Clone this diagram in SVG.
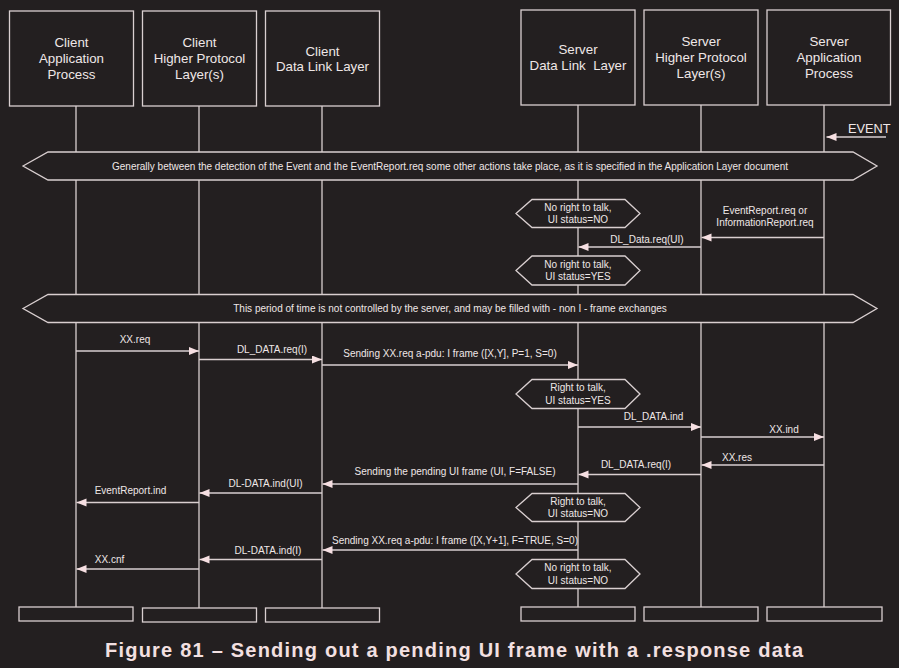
<svg xmlns="http://www.w3.org/2000/svg" width="899" height="668" viewBox="0 0 899 668">
<style>
.bg{fill:#231f20}
.box{fill:#231f20;stroke:#d9cfd0;stroke-width:1.3}
.life{stroke:#d9cfd0;stroke-width:1.3;fill:none}
.msg{stroke:#d9cfd0;stroke-width:1.3;fill:none;marker-end:url(#ah)}
.ht{font-family:"Liberation Sans",Arial,sans-serif;font-size:13.3px;fill:#efe7e7;text-anchor:middle}
.t{font-family:"Liberation Sans",Arial,sans-serif;font-size:10px;fill:#efe7e7;text-anchor:middle}
.title{font-family:"Liberation Sans",Arial,sans-serif;font-size:20px;font-weight:bold;fill:#f3e0e1}
</style>
<defs>
<marker id="ah" markerUnits="userSpaceOnUse" markerWidth="11" markerHeight="9" refX="10" refY="4" orient="auto">
<path d="M0,0 L10,4 L0,8 z" fill="#f6dfe2"/>
</marker>
</defs>
<rect class="bg" x="0" y="0" width="899" height="668"/>

<g id="lifelines">
<line class="life" x1="76" y1="106" x2="76" y2="607"/>
<line class="life" x1="199" y1="106" x2="199" y2="608"/>
<line class="life" x1="322" y1="106" x2="322" y2="608"/>
<line class="life" x1="578" y1="105" x2="578" y2="607"/>
<line class="life" x1="701" y1="105" x2="701" y2="607"/>
<line class="life" x1="824" y1="105" x2="824" y2="607"/>
</g>

<g id="node-client-app">
<rect class="box" x="9.5" y="11" width="124" height="95"/>
<text class="ht" x="71.5" y="47">Client</text>
<text class="ht" x="71.5" y="63">Application</text>
<text class="ht" x="71.5" y="79">Process</text>
<rect class="box" x="19" y="607" width="114" height="14"/>
</g>
<g id="node-client-hpl">
<rect class="box" x="142.5" y="11" width="114" height="95"/>
<text class="ht" x="199.5" y="47">Client</text>
<text class="ht" x="199.5" y="63">Higher Protocol</text>
<text class="ht" x="199.5" y="79">Layer(s)</text>
<rect class="box" x="142.5" y="608" width="114" height="14"/>
</g>
<g id="node-client-dll">
<rect class="box" x="265.5" y="11" width="114" height="95"/>
<text class="ht" x="322.5" y="55.5">Client</text>
<text class="ht" x="322.5" y="71">Data Link Layer</text>
<rect class="box" x="265.5" y="608" width="114" height="14"/>
</g>
<g id="node-server-dll">
<rect class="box" x="521" y="10" width="114" height="95"/>
<text class="ht" x="578" y="54">Server</text>
<text class="ht" x="578" y="70" xml:space="preserve">Data Link  Layer</text>
<rect class="box" x="521" y="607" width="114" height="14"/>
</g>
<g id="node-server-hpl">
<rect class="box" x="644" y="10" width="114" height="95"/>
<text class="ht" x="701" y="46">Server</text>
<text class="ht" x="701" y="62">Higher Protocol</text>
<text class="ht" x="701" y="78">Layer(s)</text>
<rect class="box" x="644" y="607" width="114" height="14"/>
</g>
<g id="node-server-app">
<rect class="box" x="767" y="10" width="123.5" height="95"/>
<text class="ht" x="829" y="46">Server</text>
<text class="ht" x="829" y="62">Application</text>
<text class="ht" x="829" y="78">Process</text>
<rect class="box" x="767" y="607" width="115" height="14"/>
</g>

<g id="banner-1">
<polygon class="box" points="23,166 48,152 853,152 877,166 853,180 48,180"/>
<text class="t" x="450" y="169.5">Generally between the detection of the Event and the EventReport.req some other actions take place, as it is specified in the Application Layer document</text>
</g>
<g id="banner-2">
<polygon class="box" points="23,308.5 48,294.5 853,294.5 877,308.5 853,322.5 48,322.5"/>
<text class="t" x="450" y="312">This period of time is not controlled by the server, and may be filled with - non I - frame exchanges</text>
</g>

<g id="state-1">
<polygon class="box" points="516,213.5 532,199.5 625,199.5 640,213.5 625,227.5 532,227.5"/>
<text class="t" x="578" y="210.6">No right to talk,</text>
<text class="t" x="578" y="223">UI status=NO</text>
</g>
<g id="state-2">
<polygon class="box" points="516,270.5 532,256 625,256 640,270.5 625,285 532,285"/>
<text class="t" x="578" y="267.6">No right to talk,</text>
<text class="t" x="578" y="280">UI status=YES</text>
</g>
<g id="state-3">
<polygon class="box" points="516,394 532,379.5 625,379.5 640,394 625,408.5 532,408.5"/>
<text class="t" x="578" y="391">Right to talk,</text>
<text class="t" x="578" y="403.6">UI status=YES</text>
</g>
<g id="state-4">
<polygon class="box" points="516,507.5 532,493.5 625,493.5 640,507.5 625,521.5 532,521.5"/>
<text class="t" x="578" y="504.6">Right to talk,</text>
<text class="t" x="578" y="517">UI status=NO</text>
</g>
<g id="state-5">
<polygon class="box" points="516,574 532,559.5 625,559.5 640,574 625,588.5 532,588.5"/>
<text class="t" x="578" y="571.3">No right to talk,</text>
<text class="t" x="578" y="583.6">UI status=NO</text>
</g>

<g id="connectors">
<line class="msg" x1="886" y1="137" x2="826.5" y2="137"/>
<line class="msg" x1="824" y1="237.5" x2="701.5" y2="237.5"/>
<line class="msg" x1="701" y1="247" x2="578.5" y2="247"/>
<line class="msg" x1="76" y1="351" x2="199" y2="351"/>
<line class="msg" x1="199" y1="359.5" x2="322" y2="359.5"/>
<line class="msg" x1="322" y1="365" x2="578" y2="365"/>
<line class="msg" x1="578" y1="427" x2="701" y2="427"/>
<line class="msg" x1="701" y1="437" x2="824" y2="437"/>
<line class="msg" x1="824" y1="465" x2="701.5" y2="465"/>
<line class="msg" x1="701" y1="474.5" x2="578.5" y2="474.5"/>
<line class="msg" x1="578" y1="484" x2="322.5" y2="484"/>
<line class="msg" x1="322" y1="493" x2="199.5" y2="493"/>
<line class="msg" x1="199" y1="502.5" x2="76.5" y2="502.5"/>
<line class="msg" x1="578" y1="550" x2="322.5" y2="550"/>
<line class="msg" x1="322" y1="559.5" x2="199.5" y2="559.5"/>
<line class="msg" x1="199" y1="569" x2="76.5" y2="569"/>
</g>

<g id="labels">
<text class="ht" x="848" y="133" style="text-anchor:start;font-size:12.8px">EVENT</text>
<text class="t" x="765" y="213.6">EventReport.req or</text>
<text class="t" x="765" y="226">InformationReport.req</text>
<text class="t" x="647" y="243">DL_Data.req(UI)</text>
<text class="t" x="135" y="343">XX.req</text>
<text class="t" x="272" y="353">DL_DATA.req(I)</text>
<text class="t" x="450" y="357">Sending XX.req a-pdu: I frame ([X,Y], P=1, S=0)</text>
<text class="t" x="653.5" y="420.3">DL_DATA.ind</text>
<text class="t" x="784" y="432.6">XX.ind</text>
<text class="t" x="737" y="461">XX.res</text>
<text class="t" x="636" y="468.3">DL_DATA.req(I)</text>
<text class="t" x="455" y="475.3">Sending the pending UI frame (UI, F=FALSE)</text>
<text class="t" x="265.5" y="487">DL-DATA.ind(UI)</text>
<text class="t" x="130.5" y="494.3">EventReport.ind</text>
<text class="t" x="455" y="543.6">Sending XX.req a-pdu: I frame ([X,Y+1], F=TRUE, S=0)</text>
<text class="t" x="268" y="553.6">DL-DATA.ind(I)</text>
<text class="t" x="109.5" y="562.6">XX.cnf</text>
</g>

<text class="title" x="105" y="657" textLength="698" lengthAdjust="spacing">Figure 81 – Sending out a pending UI frame with a .response data</text>
</svg>
